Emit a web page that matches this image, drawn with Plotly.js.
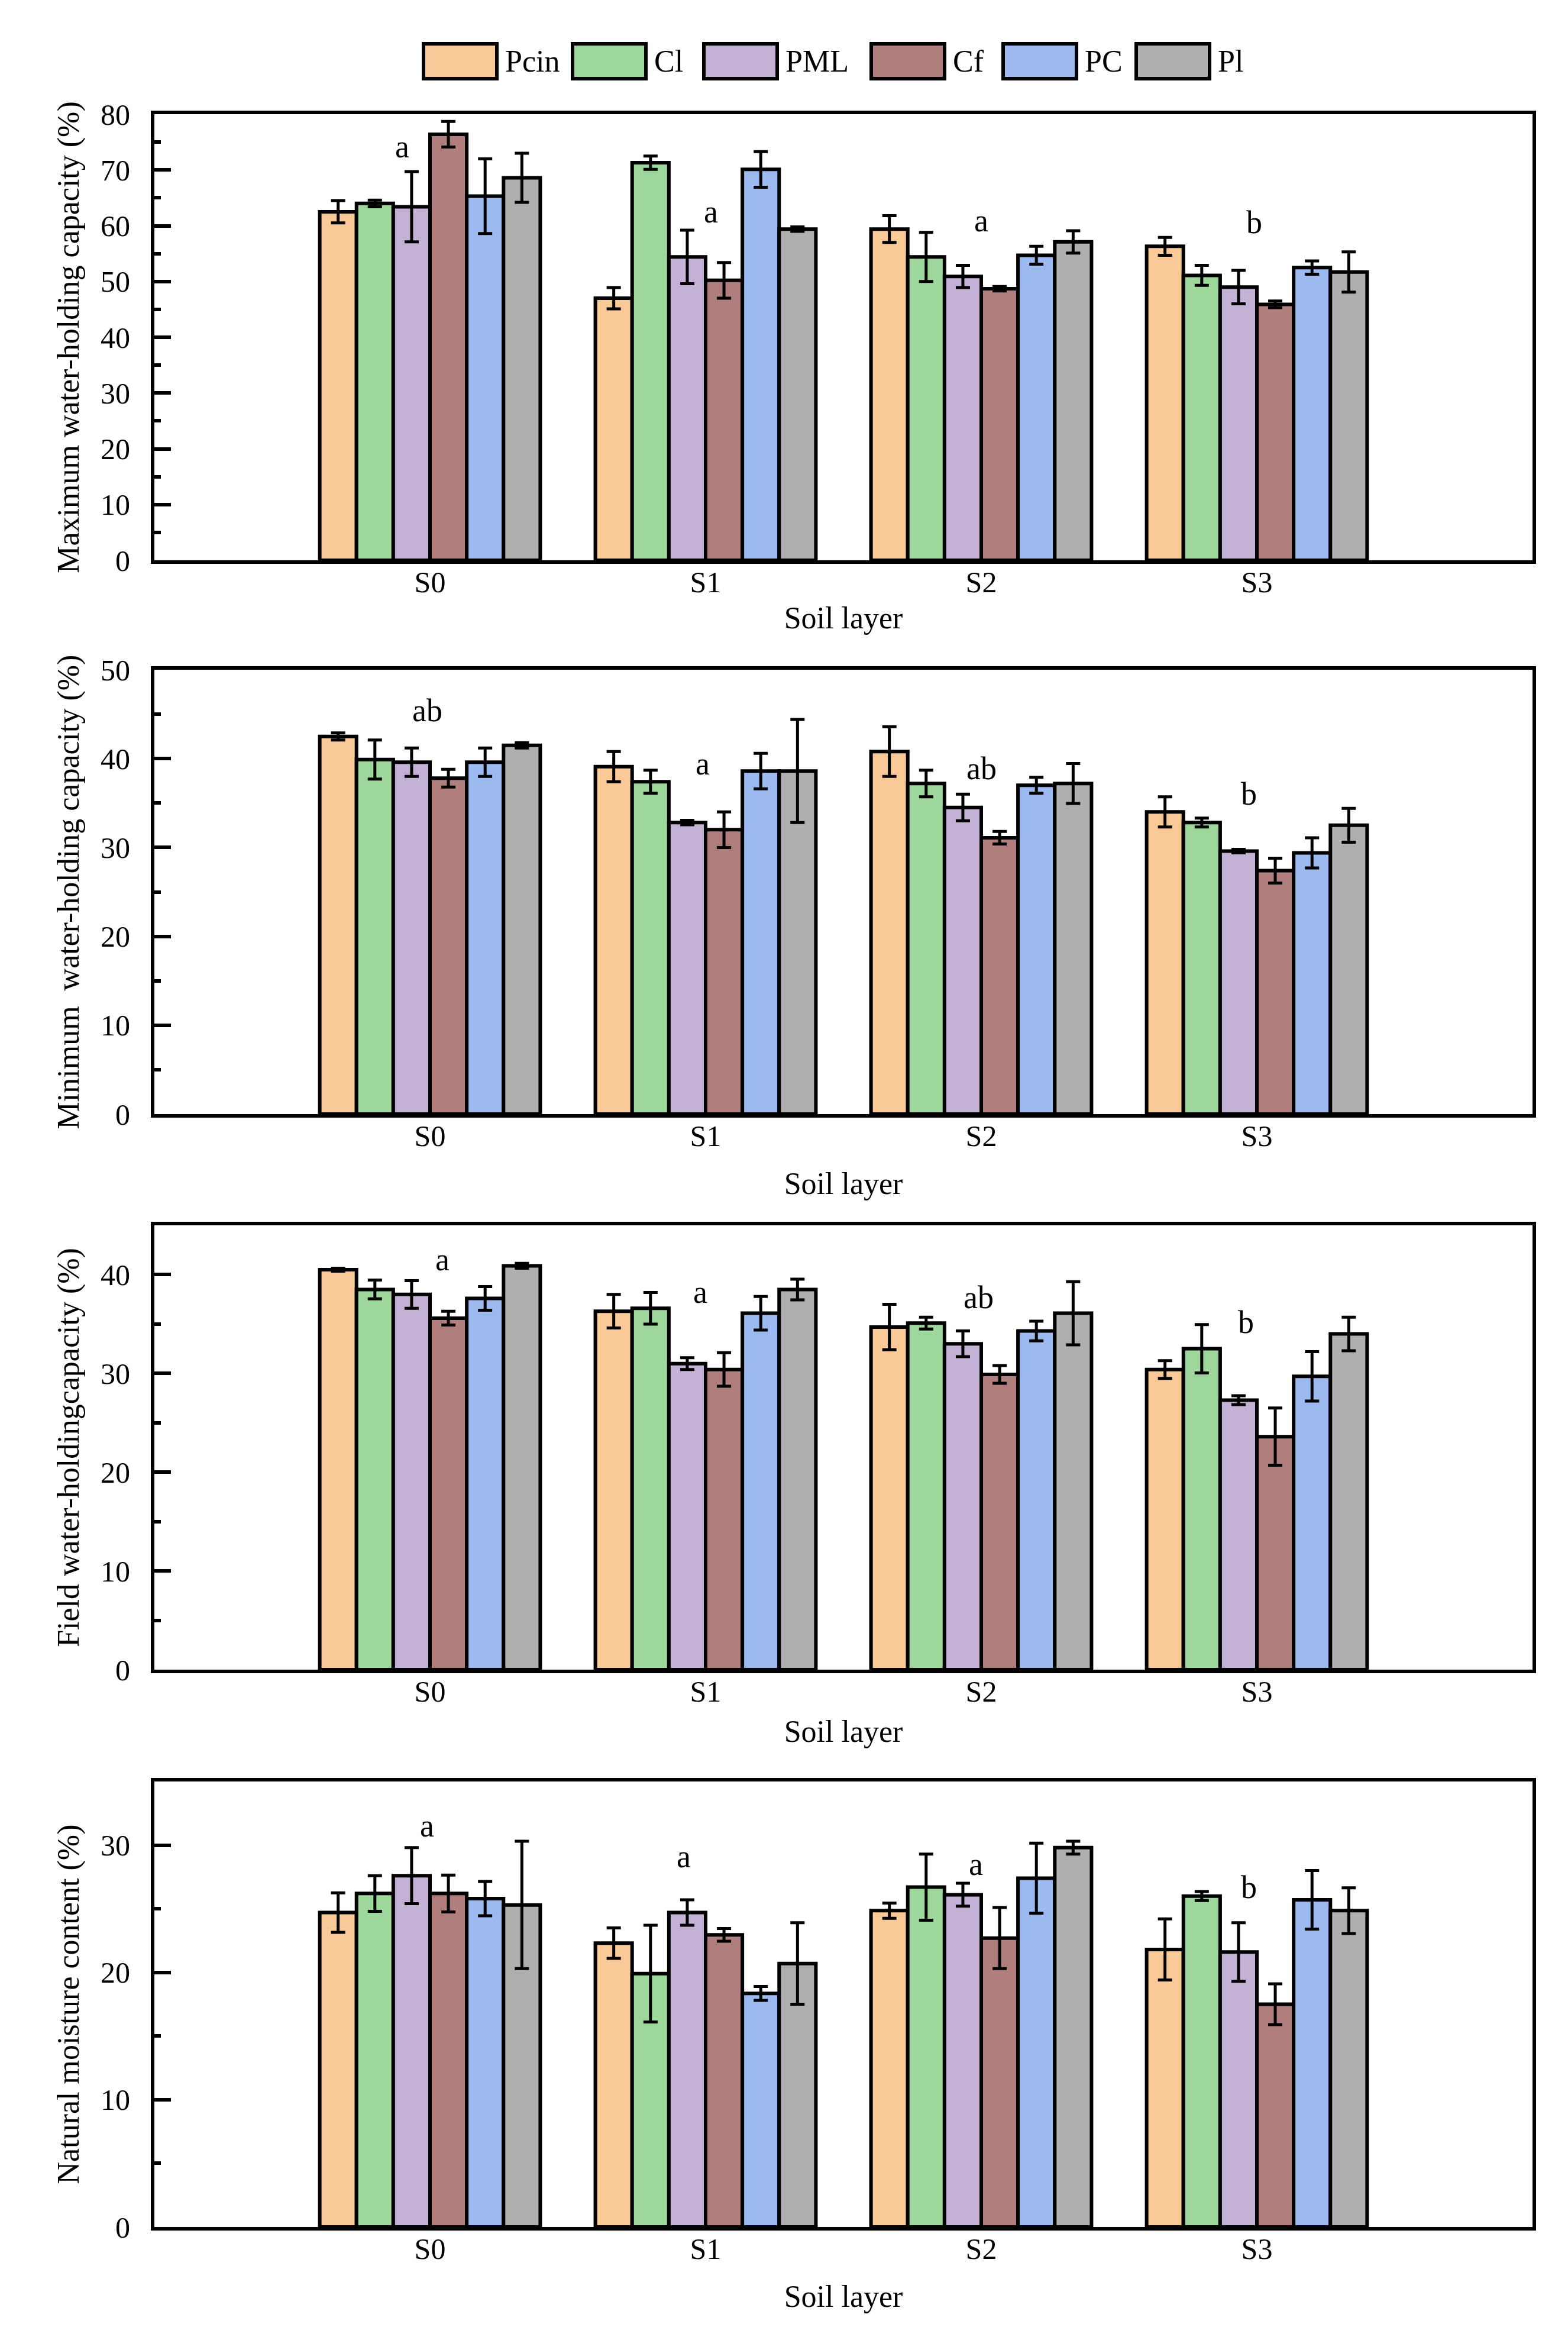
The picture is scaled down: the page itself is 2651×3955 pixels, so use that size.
<!DOCTYPE html>
<html><head><meta charset="utf-8">
<script src="https://cdn.plot.ly/plotly-3.0.1.min.js"></script>
<style>html,body{margin:0;padding:0;background:#fff}#chart{width:2651px;height:3955px}</style>
</head><body><div id="chart"></div>
<script>
// ---------------- DATA ----------------
const categories = ['S0','S1','S2','S3'];
const seriesNames = ['Pcin','Cl','PML','Cf','PC','Pl'];
const seriesColors = ['#FAC998','#9ED79B','#C3B2D6','#B07F7D','#9CBAF0','#AFAFAF'];

// Maximum water-holding capacity (%): rows = series (Pcin..Pl), cols = S0..S3
const maxMean = [
  [62.5, 47.0, 59.4, 56.3],
  [64.0, 71.3, 54.4, 51.1],
  [63.4, 54.4, 50.9, 49.0],
  [76.4, 50.2, 48.7, 45.9],
  [65.3, 70.1, 54.7, 52.5],
  [68.6, 59.4, 57.1, 51.7]
];
const maxErr = [
  [2.0, 1.9, 2.4, 1.6],
  [0.6, 1.2, 4.4, 1.8],
  [6.3, 4.8, 2.0, 3.0],
  [2.3, 3.2, 0.4, 0.6],
  [6.7, 3.2, 1.6, 1.2],
  [4.4, 0.4, 2.0, 3.6]
];
const maxLetters = ['a','a','a','b'];

// Minimum water-holding capacity (%)
const minMean = [
  [42.5, 39.1, 40.8, 34.0],
  [39.9, 37.4, 37.2, 32.8],
  [39.6, 32.8, 34.5, 29.6],
  [37.8, 32.0, 31.1, 27.4],
  [39.6, 38.6, 37.0, 29.4],
  [41.5, 38.6, 37.2, 32.5]
];
const minErr = [
  [0.4, 1.7, 2.8, 1.7],
  [2.2, 1.3, 1.5, 0.5],
  [1.6, 0.25, 1.5, 0.2],
  [1.0, 2.0, 0.7, 1.4],
  [1.6, 2.0, 0.9, 1.7],
  [0.3, 5.8, 2.25, 1.9]
];
const minLetters = ['ab','a','ab','b'];

// Field water-holding capacity (%)
const fieldMean = [
  [40.5, 36.3, 34.7, 30.4],
  [38.5, 36.6, 35.1, 32.5],
  [38.0, 31.0, 33.0, 27.3],
  [35.6, 30.4, 29.9, 23.6],
  [37.6, 36.1, 34.3, 29.7],
  [40.9, 38.5, 36.1, 34.0]
];
const fieldErr = [
  [0.15, 1.7, 2.3, 0.9],
  [0.95, 1.6, 0.6, 2.45],
  [1.4, 0.6, 1.3, 0.45],
  [0.7, 1.7, 0.9, 2.9],
  [1.2, 1.7, 1.0, 2.5],
  [0.25, 1.05, 3.2, 1.7]
];
const fieldLetters = ['a','a','ab','b'];

// Natural moisture content (%)
const natMean = [
  [24.7, 22.3, 24.85, 21.8],
  [26.2, 19.9, 26.7, 26.0],
  [27.6, 24.7, 26.1, 21.6],
  [26.2, 22.95, 22.7, 17.5],
  [25.8, 18.35, 27.4, 25.7],
  [25.3, 20.7, 29.8, 24.85]
];
const natErr = [
  [1.55, 1.2, 0.6, 2.4],
  [1.4, 3.8, 2.6, 0.35],
  [2.2, 1.0, 0.9, 2.3],
  [1.45, 0.5, 2.4, 1.6],
  [1.35, 0.55, 2.75, 2.3],
  [5.0, 3.2, 0.5, 1.8]
];
const natLetters = ['a','a','a','b'];

const yTitles = [
  'Maximum water-holding capacity (%)',
  'Minimum  water-holding capacity (%)',
  'Field water-holdingcapacity (%)',
  'Natural moisture content (%)'
];
const xTitle = 'Soil layer';

// ---------------- LAYOUT ----------------
const W = 2651, H = 3955;
const FONT = 'Liberation Serif, Times New Roman, serif';
const panels = [
  {mean: maxMean, err: maxErr, letters: maxLetters, yMax: 80, top: 193, bottom: 947, xStand: 17,
   letterPos: [[-0.10,74.2],[1.02,62.5],[2.0,60.9],[2.99,60.6]]},
  {mean: minMean, err: minErr, letters: minLetters, yMax: 50, top: 1132, bottom: 1883, xStand: 37,
   letterPos: [[-0.01,45.4],[0.99,39.4],[2.0,38.9],[2.97,36.0]]},
  {mean: fieldMean, err: fieldErr, letters: fieldLetters, yMax: 45, top: 2071, bottom: 2822, xStand: 24,
   letterPos: [[0.045,41.5],[0.98,38.2],[1.99,37.7],[2.96,35.2]]},
  {mean: natMean, err: natErr, letters: natLetters, yMax: 35, top: 3011, bottom: 3764, xStand: 37,
   letterPos: [[-0.01,31.5],[0.92,29.1],[1.98,28.5],[2.97,26.7]]}
];
const xLeft = 261, xRight = 2591;

const traces = [];
const layout = {
  width: W, height: H,
  margin: {l: 0, r: 0, t: 0, b: 0},
  paper_bgcolor: '#fff', plot_bgcolor: '#fff',
  showlegend: false,
  barmode: 'group', bargap: 0.2, bargroupgap: 0,
  font: {family: FONT, size: 50, color: '#000'},
  annotations: [], shapes: []
};

panels.forEach((p, pi) => {
  const suffix = pi === 0 ? '' : String(pi + 1);
  const xa = 'x' + suffix, ya = 'y' + suffix;
  seriesNames.forEach((name, si) => {
    traces.push({
      type: 'bar', name: name, x: categories, y: p.mean[si],
      xaxis: xa, yaxis: ya, showlegend: false,
      marker: {color: seriesColors[si], line: {color: '#000', width: 6}},
      error_y: {type: 'data', array: p.err[si], visible: true, color: '#000', thickness: 5, width: 12},
      hoverinfo: 'skip'
    });
  });
  layout['xaxis' + suffix] = {
    domain: [xLeft / W, xRight / W], anchor: ya,
    type: 'category', range: [-1, 4],
    showline: true, linecolor: '#000', linewidth: 6, mirror: true,
    ticks: '', showgrid: false, zeroline: false,
    tickfont: {family: FONT, size: 50, color: '#000'},
    ticklabelstandoff: -12,
    title: {text: xTitle, font: {family: FONT, size: 52, color: '#000'}, standoff: p.xStand}
  };
  layout['yaxis' + suffix] = {
    domain: [1 - p.bottom / H, 1 - p.top / H], anchor: xa,
    range: [0, p.yMax], dtick: 10, tick0: 0,
    showline: true, linecolor: '#000', linewidth: 6, mirror: true,
    ticks: 'inside', ticklen: 28, tickwidth: 6, tickcolor: '#000',
    minor: {dtick: 5, ticks: 'inside', ticklen: 11, tickwidth: 6, tickcolor: '#000', showgrid: false},
    showgrid: false, zeroline: false,
    tickfont: {family: FONT, size: 50, color: '#000'},
    ticklabelstandoff: 25,
    title: {text: yTitles[pi], font: {family: FONT, size: 52, color: '#000'}, standoff: 22}
  };
  p.letters.forEach((t, ci) => {
    layout.annotations.push({
      xref: xa, yref: ya, x: p.letterPos[ci][0], y: p.letterPos[ci][1],
      text: t, showarrow: false, font: {family: FONT, size: 54, color: '#000'},
      xanchor: 'center', yanchor: 'middle'
    });
  });
});

// custom legend (large swatches like the reference)
const legSwatchX = [716, 968, 1190, 1473, 1696, 1921];
const legSwatchW = 124, legTop = 74, legBot = 133;
seriesNames.forEach((name, si) => {
  const x0 = legSwatchX[si];
  layout.shapes.push({
    type: 'rect', xref: 'paper', yref: 'paper',
    x0: x0 / W, x1: (x0 + legSwatchW) / W, y0: 1 - legBot / H, y1: 1 - legTop / H,
    fillcolor: seriesColors[si], line: {color: '#000', width: 6}
  });
  layout.annotations.push({
    xref: 'paper', yref: 'paper', x: (x0 + legSwatchW + 12) / W, y: 1 - ((legTop + legBot) / 2) / H,
    text: name, showarrow: false, xanchor: 'left', yanchor: 'middle',
    font: {family: FONT, size: 52, color: '#000'}
  });
});

Plotly.newPlot('chart', traces, layout, {staticPlot: true, displayModeBar: false});
</script>
</body></html>
